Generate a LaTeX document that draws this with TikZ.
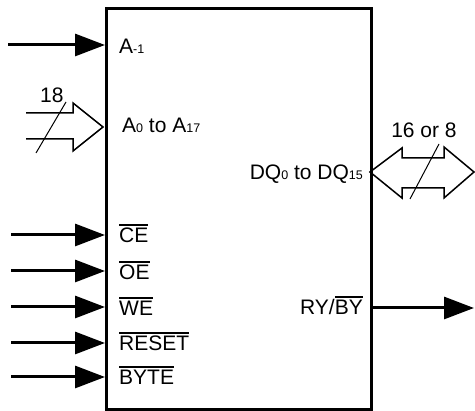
\documentclass[tikz,border=0pt]{standalone}
\usepackage{fontspec}
\setmainfont{Liberation Sans}
\usetikzlibrary{arrows.meta}
\newcommand\sbs[1]{{\fontsize{12.5}{12.5}\selectfont #1}}
\newcommand\ovb[1]{\vbox{\hrule height 1.5pt\kern 2.6pt\hbox{#1}}}
\begin{document}
\begin{tikzpicture}[x=1pt,y=-1pt,
  lbl/.style={font=\fontsize{21}{25}\selectfont, inner sep=0pt, anchor=base west},
  lblr/.style={font=\fontsize{21}{25}\selectfont, inner sep=0pt, anchor=base east},
  sig/.style={line width=3pt, -{Triangle[length=30pt,width=22pt]}},
  bus/.style={line width=1.5pt, line join=miter},
  slash/.style={line width=1pt}]
\useasboundingbox (0,0) rectangle (475,411);
\node[draw, line width=3pt, minimum width=265pt, minimum height=401pt, inner sep=0pt, anchor=north west] (chip) at (105,7) {};
% left single inputs
\coordinate (ia) at (8,45);
\coordinate (ice) at (11,235);
\coordinate (ioe) at (11,271);
\coordinate (iwe) at (11,307);
\coordinate (irs) at (11,343);
\coordinate (iby) at (11,377);
\foreach \c in {ia,ice,ioe,iwe,irs,iby} \draw[sig] (\c) -- (\c -| chip.west);
% labels
\node[lbl] (la) at (119,54) {A\sbs{-1}};
\node[lbl] (la0) at (122,133) {A\sbs{0} to A\sbs{17}};
\node[lbl] (lce) at (119,243) {\ovb{CE}};
\node[lbl] (loe) at (119,280) {\ovb{OE}};
\node[lbl] (lwe) at (119,316) {\ovb{WE}};
\node[lbl] (lrs) at (119,351) {\ovb{RESET}};
\node[lbl] (lby) at (119,385) {\ovb{BYTE}};
\node[lblr] (ldq) at (363,180) {DQ\sbs{0} to DQ\sbs{15}};
\node[lblr] (lry) at (363,315) {RY/\ovb{BY}};
% address bus
\coordinate (atip) at (103,127);
\draw[bus] (26,113) -- (73,113) -- (73,103) -- (atip) -- (73,151) -- (73,139) -- (26,139);
\draw[slash] (66,102) -- (36,153);
\node[lbl] (n18) at (40,103) {18};
% data bus
\coordinate (dl) at (370,172);
\coordinate (dr) at (474,172);
\draw[bus] (dl) -- (402,148) -- (402,158) -- (444,158) -- (444,147) -- (dr) -- (444,198) -- (444,188) -- (402,188) -- (402,198) -- cycle;
\draw[slash] (439,144) -- (410,199);
\node[font=\fontsize{21}{25}\selectfont, inner sep=0pt, anchor=base] (n16) at (424,138) {16 or 8};
% RY/BY output
\coordinate (ory) at (474,308);
\draw[sig] (chip.east |- ory) -- (ory);
\end{tikzpicture}
\end{document}
